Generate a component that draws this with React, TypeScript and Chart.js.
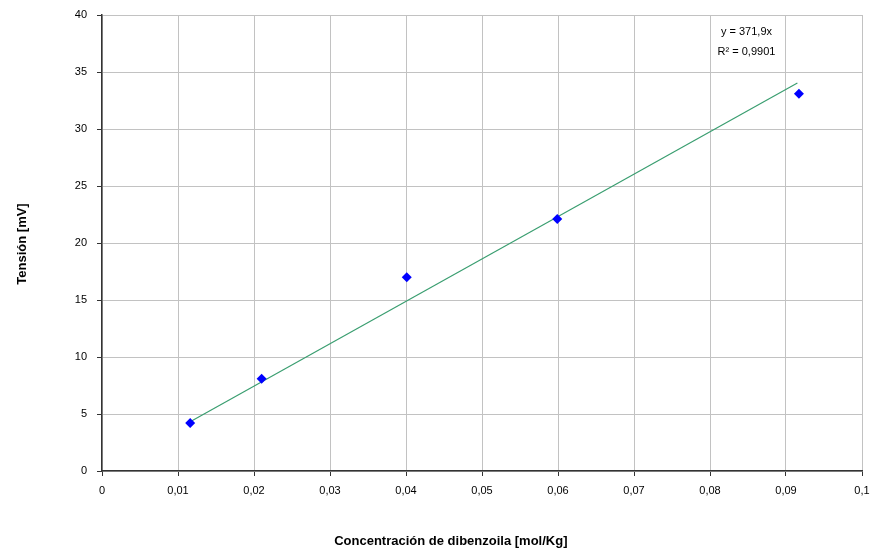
import React, { useEffect, useRef } from "react";
import { Chart, registerables } from "chart.js";

Chart.register(...registerables);

const concentrations = [0.0116, 0.021, 0.0401, 0.0599, 0.0917];
const tensions = [4.2, 8.1, 17.0, 22.1, 33.1];
const trendSlope = 371.9;
const trendLabel = "y = 371,9x";
const r2Label = "R² = 0,9901";
const xTickLabels = ["0", "0,01", "0,02", "0,03", "0,04", "0,05", "0,06", "0,07", "0,08", "0,09", "0,1"];
const yTickLabels = ["0", "5", "10", "15", "20", "25", "30", "35", "40"];
const xTitle = "Concentración de dibenzoila [mol/Kg]";
const yTitle = "Tensión [mV]";

const FONT = "'Liberation Sans', Arial, sans-serif";

export default function App() {
  const ref = useRef<HTMLCanvasElement>(null);
  useEffect(() => {
    if (!ref.current) return;
    const xFirst = concentrations[0];
    const xLast = concentrations[concentrations.length - 1];
    const textPlugin = {
      id: "texts",
      afterDraw(chart: any) {
        const { ctx, chartArea } = chart;
        ctx.save();
        ctx.fillStyle = "#000";
        ctx.font = `bold 13px ${FONT}`;
        ctx.textAlign = "center";
        ctx.textBaseline = "middle";
        ctx.fillText(xTitle, chartArea.left + (chartArea.right - chartArea.left) * 0.459, chartArea.bottom + 70);
        ctx.save();
        ctx.translate(22, (chartArea.top + chartArea.bottom) / 2 + 1);
        ctx.rotate(-Math.PI / 2);
        ctx.fillText(yTitle, 0, 0);
        ctx.restore();
        ctx.font = `11px ${FONT}`;
        const xs = chart.scales.x;
        const ys = chart.scales.y;
        const cx = xs.getPixelForValue(0.0848);
        ctx.fillText(trendLabel, cx, ys.getPixelForValue(38.5));
        ctx.fillText(r2Label, cx, ys.getPixelForValue(36.75));
        ctx.restore();
      },
    };
    const chart = new Chart(ref.current, {
      type: "scatter",
      data: {
        datasets: [
          {
            label: "trend",
            data: [
              { x: xFirst, y: trendSlope * xFirst },
              { x: xLast - 0.0002, y: trendSlope * (xLast - 0.0002) },
            ],
            showLine: true,
            borderColor: "#3a9e70",
            borderWidth: 1.2,
            pointRadius: 0,
            order: 2,
          },
          {
            label: "data",
            data: concentrations.map((x, i) => ({ x, y: tensions[i] })),
            pointStyle: "rectRot",
            pointRadius: 5,
            backgroundColor: "#0000ff",
            borderColor: "#0000ff",
            borderWidth: 0,
            order: 1,
          },
        ],
      },
      options: {
        animation: false,
        responsive: false,
        devicePixelRatio: 1,
        layout: { padding: { left: 0, right: 10, top: 15, bottom: 0 } },
        plugins: { legend: { display: false }, tooltip: { enabled: false } },
        scales: {
          x: {
            type: "linear",
            min: 0,
            max: 0.1,
            afterFit: (s: any) => { s.height = 83; s.paddingRight = 0; s.paddingLeft = 0; },
            afterBuildTicks: (s: any) => {
              s.ticks = xTickLabels.map((_, i) => ({ value: i * 0.01 }));
            },
            ticks: {
              callback: (_v: any, i: number) => xTickLabels[i],
              font: { family: FONT, size: 11 },
              color: "#000",
              padding: 8,
              maxRotation: 0,
              autoSkip: false,
            },
            grid: { color: "#c2c2c2", lineWidth: 1, tickLength: 5, tickColor: "#333" },
            border: { color: "#333", width: 1.5 },
          },
          y: {
            type: "linear",
            min: 0,
            max: 40,
            afterFit: (s: any) => { s.width = 102; s.paddingTop = 0; s.paddingBottom = 0; },
            afterBuildTicks: (s: any) => {
              s.ticks = yTickLabels.map((_, i) => ({ value: i * 5 }));
            },
            ticks: {
              callback: (_v: any, i: number) => yTickLabels[i],
              font: { family: FONT, size: 11 },
              color: "#000",
              padding: 10,
              autoSkip: false,
            },
            grid: { color: "#c2c2c2", lineWidth: 1, tickLength: 5, tickColor: "#333" },
            border: { color: "#333", width: 1.5 },
          },
        },
      },
      plugins: [textPlugin],
    });
    return () => chart.destroy();
  }, []);
  return (
    <div style={{ position: "absolute", left: 0, top: 0, width: 872, height: 554, background: "#fff" }}>
      <canvas ref={ref} width={872} height={554} style={{ display: "block" }} />
    </div>
  );
}
